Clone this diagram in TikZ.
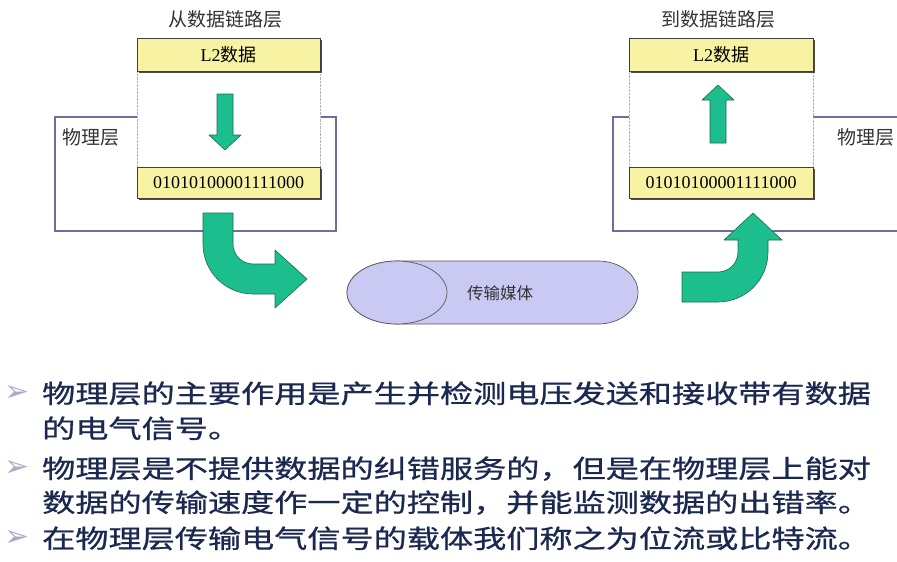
\documentclass[tikz,border=0pt]{standalone}
\usepackage{fontspec}
\setmainfont{Liberation Serif}
\newfontfamily\cjk{Noto Sans CJK SC}
\newfontfamily\cjkwide[FakeStretch=1.3,FakeBold=0.8]{Noto Sans CJK SC}
\newfontfamily\symfont{DejaVu Sans}
\usepackage{xcolor}
\usepackage{tikz}
\usetikzlibrary{shadows}

\definecolor{boxyellow}{HTML}{F7F3A3}
\definecolor{layerline}{HTML}{6E6E9E}
\definecolor{arrowgreen}{HTML}{1BBE8C}
\definecolor{arrowedge}{HTML}{1E6A48}
\definecolor{mediumfill}{HTML}{C9C9F3}
\definecolor{textnavy}{HTML}{1B2850}
\definecolor{bulletgray}{HTML}{A8ADC2}

\begin{document}
\begin{tikzpicture}[x=1pt,y=-1pt,
  layerbox/.style={draw=layerline,line width=1.4pt,fill=white,inner sep=0pt,minimum height=114pt},
  colbox/.style={draw=gray!60,densely dotted,fill=white,minimum width=183pt,minimum height=96pt,inner sep=0pt},
  databox/.style={draw=black!75,line width=0.6pt,fill=boxyellow,minimum width=183pt,inner sep=0pt,
    drop shadow={shadow xshift=2pt,shadow yshift=-2pt,fill=black!70,opacity=1},font=\fontsize{18}{20}\selectfont},
  headtext/.style={font=\cjk\fontsize{19}{21}\selectfont,text=black!80,inner sep=0pt},
  blockarrow/.style={fill=arrowgreen,draw=arrowedge,line width=0.6pt,line join=round},
  mediumbody/.style={fill=mediumfill,draw=black!65,line width=0.7pt},
  bulletmark/.style={font=\symfont\fontsize{30}{32}\selectfont,text=bulletgray,inner sep=0pt},
  textline/.style={anchor=base west,inner sep=0pt,font=\cjkwide\fontsize{25.5}{34}\selectfont,text=textnavy}]
  \useasboundingbox (0,0) rectangle (897,562);
  \fill[white] (0,0) rectangle (897,562);

  % physical layer frames
  \node[layerbox,minimum width=281pt] (lphys) at (195.5,174) {};
  \node[layerbox,minimum width=287pt] (rphys) at (756.5,174) {};
  \node[headtext] (lname) at (91,137) {物理层};
  \node[headtext] (rname) at (866,137) {物理层};

  % sending side
  \node[colbox] (lcol) at (228.5,119) {};
  \node[databox,minimum height=33pt] (ltop) at (228.5,54.5) {L2{\cjk 数据}};
  \node[databox,minimum height=31pt] (lbot) at (228.5,182.5) {01010100001111000};
  \node[headtext] (ltitle) at (225,19) {从数据链路层};
  \draw[blockarrow] (217,94) -- (233,94) -- (233,135) -- (241,135) -- (225,150)
    -- (209,135) -- (217,135) -- cycle;

  % receiving side
  \node[colbox,minimum width=184pt] (rcol) at (721,119) {};
  \node[databox,minimum width=184pt,minimum height=33pt] (rtop) at (721,54.5) {L2{\cjk 数据}};
  \node[databox,minimum width=184pt,minimum height=31pt] (rbot) at (721,182.5) {01010100001111000};
  \node[headtext] (rtitle) at (718,19) {到数据链路层};
  \draw[blockarrow] (710,143) -- (726,143) -- (726,100) -- (734,100) -- (718,85)
    -- (702,100) -- (710,100) -- cycle;

  % bent arrows
  \draw[blockarrow] (203,213) -- (203,244) arc[start angle=180,end angle=90,radius=50]
    -- (275,294) -- (275,308) -- (307,279) -- (275,250) -- (275,264) -- (253,264)
    arc[start angle=90,end angle=180,radius=20] -- (233,213) -- cycle;
  \draw[blockarrow] (682,272) -- (682,302) -- (718,302) arc[start angle=90,end angle=0,radius=50]
    -- (768,240) -- (782,240) -- (753,213) -- (724,240) -- (738,240) -- (738,252)
    arc[start angle=0,end angle=90,radius=20] -- cycle;

  % medium
  \draw[mediumbody] (397,261) -- (598,261) arc[start angle=-90,end angle=90,x radius=40,y radius=31.5]
    -- (397,324) arc[start angle=90,end angle=270,x radius=50,y radius=31.5] -- cycle;
  \draw[mediumbody] (397,292.5) ellipse[x radius=50,y radius=31.5];
  \node[font=\cjk\fontsize{16.5}{18}\selectfont,text=black!80,inner sep=0pt] (medium) at (500,293) {传输媒体};

  % notes
  \node[bulletmark] (b1) at (17,393) {➢};
  \node[textline] (t1a) at (42,403) {物理层的主要作用是产生并检测电压发送和接收带有数据};
  \node[textline] (t1b) at (42,438) {的电气信号。};
  \node[bulletmark] (b2) at (17,468) {➢};
  \node[textline] (t2a) at (42,478) {物理层是不提供数据的纠错服务的，但是在物理层上能对};
  \node[textline] (t2b) at (42,512) {数据的传输速度作一定的控制，并能监测数据的出错率。};
  \node[bulletmark] (b3) at (17,538) {➢};
  \node[textline] (t3) at (42,548) {在物理层传输电气信号的载体我们称之为位流或比特流。};
\end{tikzpicture}
\end{document}
